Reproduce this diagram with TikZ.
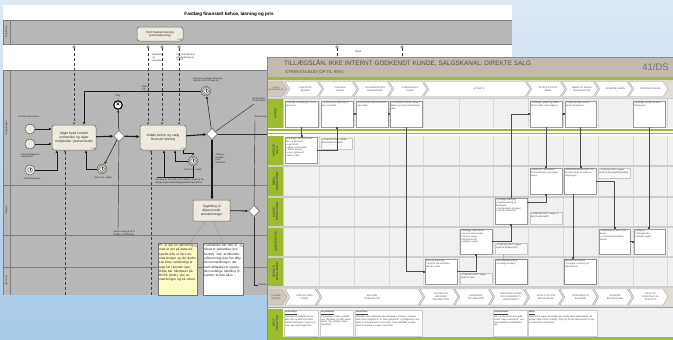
\documentclass[tikz,border=0pt]{standalone}
\usepackage{fontspec}
\setmainfont{Liberation Sans}
\usetikzlibrary{shapes.geometric,arrows.meta,calc}
\definecolor{bgtop}{HTML}{DCE9F5}
\definecolor{bgbot}{HTML}{A5CAEA}
\definecolor{lgray}{HTML}{B7B7B7}
\definecolor{laneln}{HTML}{7E7E7E}
\definecolor{taskf}{HTML}{EFEAE0}
\definecolor{taskd}{HTML}{6E685E}
\definecolor{evf}{HTML}{EFEADF}
\definecolor{evd}{HTML}{5E5A54}
\definecolor{notey}{HTML}{FDFBC6}
\definecolor{hdr}{HTML}{C2BAAE}
\definecolor{chevbg}{HTML}{E1DDD6}
\definecolor{chevlab}{HTML}{D0C8BB}
\definecolor{grn}{HTML}{9CBC2E}
\definecolor{rowbg}{HTML}{F0F0F0}
\definecolor{sepc}{HTML}{CDCDCD}
\definecolor{gridl}{HTML}{D8D8D8}
\definecolor{ttl}{HTML}{55514B}
\definecolor{boxd}{HTML}{9A9A9A}
\definecolor{txtg}{HTML}{444444}

\newcommand{\fA}{\fontsize{2.3}{2.8}\selectfont}
\newcommand{\fB}{\fontsize{2.9}{3.4}\selectfont}
\newcommand{\fC}{\fontsize{3.2}{4.3}\selectfont}
\newcommand{\fD}{\fontsize{3.3}{3.9}\selectfont}

\newcommand{\mychev}[6]{%
  \draw[chevst] (#2,#4) -- (#3-5,#4) -- (#3,{(#4+#5)/2}) -- (#3-5,#5) -- (#2,#5) -- (#2+5,{(#4+#5)/2}) -- cycle;
  \node[chevtxt] (#1) at ({(#2+#3)/2+2},{(#4+#5)/2}) {#6};
}
\newcommand{\rbx}[7][]{%
  \pgfmathsetmacro{\rbw}{#5-#3}\pgfmathsetmacro{\rbh}{#6-#4}\pgfmathsetmacro{\rbt}{#5-#3-2.5}%
  \node[rboxst,#1,minimum width=\rbw pt,minimum height=\rbh pt] (#2) at ({(#3+#5)/2},{(#4+#6)/2}) {};%
  \node[rtext,text width=\rbt pt] at (#2.north west) {#7};%
}
\newcommand{\clockin}[1]{%
  \draw[black!70, line width=0.3pt] (#1.center) circle (2.4pt);
  \draw[black!70, line width=0.3pt] (#1.center) -- ++(0,-1.8) (#1.center) -- ++(1.3,0);
}

\begin{document}
\begin{tikzpicture}[x=1pt,y=-1pt,
 task/.style={rectangle, rounded corners=2.5pt, draw=taskd, fill=taskf, line width=0.5pt, align=center, font=\fD, text=black!85, inner sep=1pt},
 evt/.style={circle, draw=evd, fill=evf, minimum size=10pt, inner sep=0pt, line width=0.5pt},
 gw/.style={diamond, aspect=1, draw=evd, fill=white!92!taskf, minimum size=11pt, inner sep=0pt, line width=0.5pt},
 flow/.style={draw=black!90, line width=0.5pt, -{Latex[length=2.6pt,width=2.3pt]}},
 bflow/.style={draw=black!90, line width=1.1pt, -{Latex[length=3.4pt,width=3.2pt]}},
 pln/.style={draw=black!80, line width=0.45pt},
 msg/.style={draw=black!75, densely dashed, line width=0.4pt, -{Triangle[open,length=2.2pt,width=2.2pt]}},
 msgc/.style={circle, draw=black!75, fill=white, minimum size=2.6pt, inner sep=0pt, line width=0.35pt},
 lbl/.style={font=\fA, text=black!85, align=left, inner sep=0.5pt},
 lanelbl/.style={font=\fA, rotate=90, text=black!80},
 notebox/.style={draw=black!55, line width=0.4pt, anchor=north west, minimum width=39pt, minimum height=52pt, inner sep=0pt},
 notetext/.style={anchor=north west, font=\fC, text width=37pt, align=left, inner sep=1pt, text=black!85},
 chevst/.style={draw=black!35, fill=white, line width=0.4pt},
 chevtxt/.style={font=\fA, align=center, text=black!70, inner sep=0pt},
 rboxst/.style={draw=boxd, fill=white, line width=0.4pt, inner sep=0pt},
 rtext/.style={anchor=north west, font=\fA, align=left, text=txtg, inner sep=1pt},
 rnote/.style={draw=black!22, fill=white!55!rowbg},
 bpbox/.style={draw=black!20, fill=white},
 rlbl/.style={rotate=90, font=\fB, align=center, text=black!80, inner sep=0pt},
 rc/.style={draw=black!70, line width=0.45pt, -{Square[length=1.6pt,width=1.6pt]}},
]
\useasboundingbox (0,0) rectangle (673,340);
\shade[top color=bgtop, bottom color=bgbot] (0,0) rectangle (673,340);

%% ================= left screenshot (BPMN) =================
\fill[white] (3,5) rectangle (512,295);
\fill[lgray] (3,20) rectangle (512,44);
\draw[laneln, line width=0.4pt] (3,20) -- (512,20) (3,44) -- (512,44) (10,20) -- (10,44) (3,20) -- (3,44);
\fill[lgray] (3,70) rectangle (512,295);
\draw[laneln, line width=0.4pt] (3,70) -- (512,70) (10,70) -- (10,295) (3,185) -- (512,185)
      (3,235) -- (512,235) (3,267) -- (512,267) (3,70) -- (3,295);

\node[font=\bfseries\fontsize{4.6}{5}\selectfont, inner sep=0pt] (ltitle) at (229,14) {Fastlæg finansielt behov, løsning og pris};

\node[lanelbl] (ln0) at (6.5,32) {Salg kunde};
\node[lanelbl] (ln1) at (6.5,128) {Salgsrådgiver};
\node[lanelbl] (ln2) at (6.5,210) {Rådgiver};
\node[lanelbl] (ln3) at (6.5,281) {Specialist};

% tasks
\node[task, font=\fB, minimum width=46pt, minimum height=14pt, text width=40pt] (t0) at (160,34) {Find finansiel løsning\\(pool-fastpricing)};
\node[task, minimum width=44pt, minimum height=25pt, text width=40pt] (t1) at (74,137.5) {Afgør hvad kontakt omhandler og afgør muligheder (præsenteret)};
\node[task, minimum width=46pt, minimum height=25pt, text width=42pt] (t2) at (163,137.5) {Afdæk behov og vælg\\finansiel løsning};
\node[task, rounded corners=1pt, minimum width=37pt, minimum height=21pt, text width=34pt] (t3) at (211.5,210.5) {Tagstilling til disponerede anmærkninger};
\foreach \t in {t0,t1,t2}{\node[font=\fontsize{2}{2}\selectfont, anchor=south east, inner sep=1pt, text=black!70] at (\t.south east) {CHO};}

% events
\node[evt] (s1) at (30,129) {};
\node[evt] (s2) at (30,144) {};
\node[evt] (s3) at (30,170) {};
\clockin{s3}
\node[lbl] (s1l) at (29,117) {Kontakt med person};
\node[lbl] (s2l) at (30,156) {Lead modtaget fra\\Leadpartner};
\node[lbl] (s3l) at (32,179) {Tid til kampagne};

\node[circle, draw=black, line width=1.1pt, fill=white, minimum size=8.5pt, inner sep=0pt, font=\bfseries\fontsize{6.5}{6.5}\selectfont] (stop) at (118,105) {×};
\node[lbl] (stopl) at (118,96) {Stop};

\node[evt] (tm) at (206,91) {};
\draw[evd, line width=0.4pt] (tm.center) circle (3.8pt);
\clockin{tm}
\node[lbl] (tml) at (208,80) {Hvis den modtaget afvisning,\\afventer tid til at ringe op};

\node[evt] (e1) at (102,169) {};
\draw[evd, line width=0.4pt] (e1.center) circle (3.8pt);
\clockin{e1}
\node[lbl] (e1l) at (103,178) {Afvent svt. møde};

\node[evt] (e2) at (193,161) {};
\draw[evd, line width=0.4pt] (e2.center) circle (3.8pt);
\clockin{e2}
\node[lbl] (e2l) at (193,170) {Afvent svt. møde};

% gateways
\node[gw] (g1) at (119,136) {};
\node[gw] (g2) at (212,134) {};
\node[gw] (g3) at (254,211) {};

% message flows
\node[msgc] (m1) at (74,47) {};
\node[msgc] (m2) at (148,47) {};
\node[msgc] (m3) at (162,47) {};
\node[msgc] (m4) at (179,47) {};
\node[msgc] (m5) at (337,47) {};
\node[msgc] (m6) at (402,47) {};
\draw[msg] (m1) -- (m1 |- t1.north);
\draw[msg] (m2) -- (m2 |- t2.north);
\draw[msg] (m3) -- (m3 |- t2.north);
\draw[msg] (m4) -- (m4 |- t2.north);
\draw[msg] (m5) -- ++(0,12);
\draw[msg] (m6) -- ++(0,12);
\coordinate (d1b) at (65,295);
\coordinate (d2b) at (151,295);
\draw[msg] (d1b) -- (d1b |- t1.south);
\draw[msg] (d2b) -- (d2b |- t2.south);
\node[lbl] (mlab1) at (158,58) {Muligheder\\og\\betingelser};
\node[lbl, anchor=north west] (mlab2) at (176,53) {Evt. kontrakt med\\tilbudsløsning og\\skitser};
\node[lbl] (mlab3) at (146,89) {Behov\\og\\ønsker};
\node[lbl] (mlab4) at (358,52) {Tilbud};

% sequence flows
\draw[flow] (s1) -- (s1 -| t1.west);
\draw[flow] (s2) -- (s2 -| t1.west);
\draw[flow] (s3) -| ([xshift=5pt]t1.south west);
\draw[bflow] (t1) -- (g1);
\draw[bflow] (g1) -- (t2);
\draw[bflow] (t2) -- (g2);
\draw[flow] (g1) -- (stop);
\draw[flow] (g1) -- (e1);
\draw[flow] (e1) -| ([xshift=12pt]t1.south);
\coordinate (sv) at (118,229);
\draw[pln] (g1) -- (sv);
\node[lbl, anchor=north west] (svl) at (113,230) {Svarvel dag på 14 D.\\Rødag, Svindlerdag};
\draw[flow] (g2) -- (tm);
\draw[flow] (tm) -| ([xshift=10pt]t1.north);
\draw[flow] ([xshift=-3pt]t2.south east) -- ++(0,3) -| (e2.north);
\draw[flow] (e2.west) -| ([xshift=12pt]t2.south);
\coordinate (rz) at (164,177);
\draw[flow] (e2.south) |- (rz) -- (rz |- t2.south);
\draw[pln] (rz) -- (157,177);
\node[lbl, anchor=north west] (resl) at (155,178) {Ressource: hent lidt op på aftalen, tilbud og lån\\tillægsnøgler/udbetaling/gældsbrev/pantebrev};
\draw[bflow] (g2) -- (g2 |- t3.north);
\draw[flow, line width=0.8pt] (t3) -- (g3);
\coordinate (bpp) at (254,104);
\draw[pln] (g2) -- (bpp);
\node[lbl, anchor=south west] (bppl) at (252,103) {BPP kontrol\\fastprisaftale};
\draw[pln] (g2) -- (270,134);
\coordinate (anm) at (255,120);
\node[lbl, anchor=south west] (anml) at (254,119) {Anmodning};
\draw[pln] (anm) -- (g3);
\coordinate (afs) at (258,285);
\draw[pln] (g3) |- (afs);
\node[lbl, anchor=west] (afsl) at (258,285) {Afsluttes};
\node[lbl, anchor=north west] (tbl) at (215,153) {Tilbud er\\bevilget\\med\\tilbudsret};

% notes
\node[notebox, fill=notey] (n1) at (158,243) {};
\node[notebox, fill=white, minimum width=40pt] (n2) at (203,243) {};
\foreach \n in {n1,n2}{\fill[white!85!black] ([xshift=-4pt]\n.north east) -- ([yshift=-4pt]\n.north east) -- ([xshift=-4pt,yshift=-4pt]\n.north east) -- cycle;
  \draw[black!55, line width=0.4pt] ([xshift=-4pt]\n.north east) -- ([yshift=-4pt]\n.north east);}
\node[notetext] (n1t) at (n1.north west) {Pt. er der en udfordring med at der på dette tidspunkt ikke er flere anmærkninger og det derfor kan blive nødvendigt at tage fat i kunden igen. Dette bør håndteres på BOSS (bekr.) alle anmærkninger og så videre};
\node[notetext, text width=38pt] (n2t) at (n2.north west) {Forbrænder der ofte et tilbud er behandlet (indhentet). Det, at tilbuddet (afskrivning) ikke har tilbydet anmærkninger, der med afdækket et stoppe den endelige handling (h. kunden at ikke blive ...};
\draw[black!60, densely dotted, line width=0.4pt] ([xshift=-6pt]t3.south) -- ([xshift=12pt]n1.north);
\draw[black!60, densely dotted, line width=0.4pt] ([xshift=2pt]t3.south) -- (n2.north);

%% ================= right screenshot =================
\fill[sepc] (267,57) rectangle (673,340);
\fill[hdr] (267,57) rectangle (673,77);
\node[anchor=west, font=\fontsize{6.4}{7}\selectfont, text=ttl, inner sep=0pt] (rtitle) at (284,63.5) {TILLÆGSLÅN, IKKE INTERNT GODKENDT KUNDE, SALGSKANAL: DIREKTE SALG};
\node[anchor=west, font=\fontsize{4.2}{5}\selectfont, text=ttl, inner sep=0pt] (rsub) at (285,72.5) {STRAKSTILBUD (OP TIL 95\%)};
\node[anchor=east, font=\fontsize{9.5}{10}\selectfont, text=black!55, inner sep=0pt] (rnum) at (669,67.5) {41/DS};
\fill[grn] (267,77) rectangle (673,79.5);

% chevron row 1
\fill[chevbg] (267,79.5) rectangle (673,97.5);
\draw[chevst, fill=chevlab] (267,81.5) -- (282,81.5) -- (287,89) -- (282,96.5) -- (267,96.5) -- cycle;
\node[chevtxt, font=\fontsize{2}{2.5}\selectfont] (khl) at (276,89) {KUNDE\\HENVENDELSE};
\mychev{c1}{285}{322}{81.5}{96.5}{KONTAKTE\\BANKEN}
\mychev{c2}{319}{357}{81.5}{96.5}{VURDERE\\TILBUD}
\mychev{c3}{354}{392}{81.5}{96.5}{DOKUMENTATION\\FREMSENDES}
\mychev{c4}{389}{427}{81.5}{96.5}{UNDERSKRIVE\\TILBUD}
\mychev{c5}{424}{530}{81.5}{96.5}{AFVENTE}
\mychev{c6}{527}{565}{81.5}{96.5}{AFTALE TID FOR\\MØDE}
\mychev{c7}{562}{598}{81.5}{96.5}{MØDE OG SENDE\\KUNDEPAPIRER}
\mychev{c8}{595}{632}{81.5}{96.5}{AFVENTE SAGEN}
\mychev{c9}{629}{668}{81.5}{96.5}{MODTAGE PENGE}

% rows
\foreach \a/\b in {99/128,136/165,167/195.5,197.5/226,228/255.5,257.5/286}{
  \fill[rowbg] (284,\a) rectangle (673,\b);
  \fill[grn] (268,\a) rectangle (283,\b);
  \foreach \x in {319,354,389,423,459,493,528,563,598,633,667} \draw[gridl, line width=0.4pt] (\x,\a) -- (\x,\b);
}
\fill[white] (267,128) rectangle (673,135.5);
\fill[grn] (267,129.3) rectangle (673,130.7);
\fill[grn] (267,132.5) rectangle (673,133.9);
\node[rlbl] (rl1) at (275.5,113.5) {KUNDE};
\node[rlbl] (rl2) at (275.5,150.5) {DIREKTE\\SALG};
\node[rlbl] (rl3) at (275.5,181.2) {MOBIL\\RÅDGIVNING};
\node[rlbl] (rl4) at (275.5,211.7) {KUNDE-\\RÅDGIVNING};
\node[rlbl] (rl5) at (275.5,241.7) {LÅNESERVICE};
\node[rlbl] (rl6) at (275.5,271.7) {ØVRIGE\\AFDELINGER};

% system process row
\fill[chevbg] (267,287.5) rectangle (673,306.5);
\draw[chevst, fill=chevlab] (267,289) -- (282,289) -- (287,297) -- (282,305) -- (267,305) -- cycle;
\node[chevtxt, font=\fontsize{2.2}{2.7}\selectfont] (spl) at (276,297) {SYSTEM\\PROCES};
\mychev{p1}{285}{320}{289}{305}{KONTAKT MED\\KUNDE}
\mychev{p2}{317}{423}{289}{305}{AFKLARE\\KUNDENS LÅN}
\mychev{p3}{420}{458}{289}{305}{SCANNE OG\\ARKIVERE\\DOKUMENTER}
\mychev{p4}{455}{493}{289}{305}{HÅNDTERE\\DOKUMENTER}
\mychev{p5}{490}{528}{289}{305}{GODKENDE SAGEN\\OG KLARGØRE TIL\\UNDERSKRIFT}
\mychev{p6}{525}{563}{289}{305}{AFTALE TID FOR\\BESKRIVELSE}
\mychev{p7}{560}{597}{289}{305}{VURDERING AF\\EJENDOM}
\mychev{p8}{594}{632}{289}{305}{AFREGNE\\BETINGELSER}
\mychev{p9}{629}{668}{289}{305}{TINGLYSE,\\UDBETALE OG\\AFSLUTTE}

% best practice row
\fill[grn] (267,306.5) rectangle (673,308.3);
\fill[rowbg] (267,308.3) rectangle (673,340);
\fill[grn] (268,309) rectangle (283,337);
\node[rlbl] (rl7) at (275.5,323) {BEST\\PRACTICE};
\fill[grn] (267,337.4) rectangle (673,339.6);
\draw[black!45, line width=0.5pt] (267,57) -- (267,340) (267,57) -- (673,57);

% boxes
\rbx{k1}{285}{101}{318}{127}{• Kontakt til afdelingen / kundeservice}
\rbx{k2}{321}{101}{353}{127}{• Vurdering af tilbud og aftale om møde}
\rbx{k3}{356}{101}{388}{127}{• Fremsende dokumentation / lønsedler}
\rbx{k4}{390}{101}{422}{127}{• Underskrive tilbud, sende tilbud og øvrige dokumenter retur}
\rbx{k8}{530}{101}{562}{127}{• Modtage opkald og aftale tid for møde med rådgiver}
\rbx{k9}{565}{101}{596}{127}{• Møde på filial, underskrive lånepapirer}
\rbx{k11}{633}{101}{665}{127}{• Modtage penge og lånedokumenter}
\rbx{d1}{285}{137}{317}{163}{• Foretage afklaring af behov og økonomi\\• Lav BOSS\\• Aftale med kunden\\• Tilbud sendes\\• Ingen godkendt\\• Bevil i hånd}
\rbx[rnote]{d2}{321}{138}{352}{149}{• CHECKPUNKT: Aftale fremsendt til kunden}
\rbx{r3a}{530}{168}{562}{194}{• Afsæt tid i kalenderen for kundemøde og klargør sagen}
\rbx{r3b}{564}{168}{596}{194}{• Behandle dokumenter, forberede møde og indhente oplysninger}
\rbx[rnote]{r3n}{598}{168}{630}{178}{• CHECKPUNKT: Sagen sendt til lånesagsbehandling}
\rbx{r4a}{495}{198}{527}{224}{• Foretage afklaring\\• Kreditvurdering og bevillinger\\• Godkendelse af sagen\\• Klar til underskrift}
\rbx[rnote]{r4n}{530}{212}{562}{224}{• CHECKPUNKT: Sagen er klar til underskrift}
\rbx{r5a}{460}{229}{492}{254}{• Modtage dokumenter\\• Scanne dokumenter\\• Oprette sagen\\• Registrere lån\\• Klargøre sagen}
\rbx[rnote]{r5n}{495}{243}{527}{254}{• CHECKPUNKT: Sagen sendt til lånekontoret}
\rbx{r5b}{599}{229}{630}{254}{• Oprettelse af lånet i systemet\\• Fremsende lånedokumenter}
\rbx{r5c}{634}{229}{665}{254}{• Tinglyse\\• Udbetale lån\\• Afslutte sagen}
\rbx{r6a}{425}{259}{457}{284}{Print og Scanning:\\• Scanne alle lånedokumenter i arkiv}
\rbx[rnote]{r6n}{460}{273}{492}{284}{• CHECKPUNKT: Sagen sendt til arkiv}
\rbx[draw=black!45, line width=0.6pt]{r6b}{495}{259}{527}{284}{Lånesagsbehandling:\\• Foretage bevilling}
\rbx[draw=black!45, line width=0.6pt]{r6c}{564}{259}{596}{284}{Ejendomsvurdering:\\• Foretage vurdering af ejendommen}

\rbx[bpbox]{b1}{284}{310}{318}{336}{\textbf{\underline{Anbefaling}}\\Foretag forberedelse af kundens lån og økonomi inden kunden kontaktes. Sørg for at have alle oplysninger klar.}
\rbx[bpbox]{b2}{320}{310}{353}{336}{\textbf{\underline{Kundemøde}}\\Giv kunden et klart overblik over tilbuddet, og aftal næste skridt. Tag stilling til dokumentation.}
\rbx[bpbox]{b3}{355}{310}{422}{336}{\textbf{\underline{Lånetilbud}}\\Tilbuddet skal indeholde alle betingelser for lånet. Kunden skal have mulighed for at stille spørgsmål, og rådgiveren skal sikre at dokumenterne er korrekte, inden tilbuddet sendes. Husk at registrere sagen i systemet.}
\rbx[bpbox]{b4}{493}{310}{527}{336}{\textbf{\underline{Godkendelse}}\\Lån og sikkerhed skal godkendes inden underskrift. Ved tvivl kontaktes kreditafdelingen.}
\rbx[bpbox]{b5}{528}{310}{597}{336}{\textbf{\underline{Møde}}\\Aftal tid for møde så hurtigt som muligt efter godkendelse, så kunden ikke venter unødigt. Sørg for at alle dokumenter er klar til underskrift ved mødet.}

% connectors
\draw[rc] (k1.south) -- (k1.south |- d1.north);
\draw[rc] (d1.east) -| (k2.south);
\draw[rc] (k2) -- (k3);
\draw[rc] (k3) -- (k4);
\draw[rc] (k4.south) |- (r6a.west);
\draw[rc] (r6a.east) -| (r5a.south);
\draw[rc] (r5a.east) -| (r4a.south);
\draw[rc] (r4a.north) |- (k8.west);
\draw[rc] (k8) -- (k9);
\draw[rc] (k8.south) -- (k8.south |- r3a.north);
\draw[rc] ([yshift=-4pt]r4a.north east) -| (r3a.south);
\draw[rc] (k9.south) -- (k9.south |- r3b.north);
\draw[rc] (r3b.east) -| (r5b.north);
\draw[rc] (k11.south) -- (k11.south |- r5c.north);
\draw[rc] (r5b) -- (r5c);
\draw[rc] ([xshift=-7pt]r3b.south) -- ([xshift=-7pt]r3b.south |- r6c.north);
\draw[black!30, line width=0.4pt] ([xshift=-8pt]r5n.south) -- ([xshift=-8pt]r5n.south |- r6b.north);
\end{tikzpicture}
\end{document}
